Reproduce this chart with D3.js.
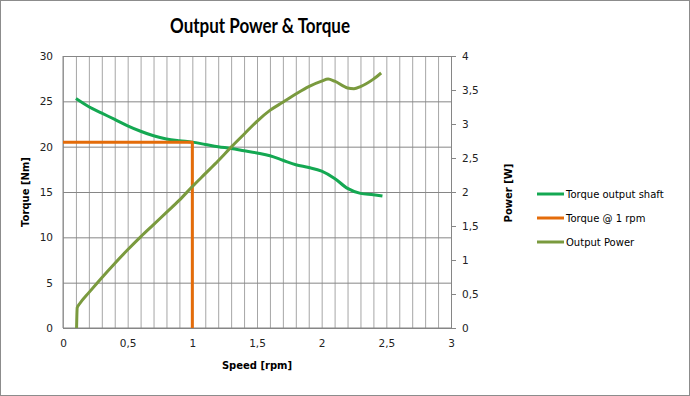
<!DOCTYPE html>
<html>
<head>
<meta charset="utf-8">
<script src="https://cdn.jsdelivr.net/npm/d3@7"></script>
<style>
	body { margin: 0; background: #fff; }
	svg { display: block; }
	.tick text { font-family: 'DejaVu Sans', Verdana, sans-serif; font-size: 10.5px; fill: #222; }
</style>
</head>
<body>
<svg></svg>
<script>

// torque output shaft [speed rpm, torque Nm]
const torqueShaft = [
	[0.1, 25.3], [0.2, 24.4], [0.3, 23.7], [0.4, 23.0], [0.5, 22.3], [0.6, 21.7],
	[0.7, 21.2], [0.8, 20.85], [0.9, 20.65], [1.0, 20.5], [1.1, 20.25], [1.2, 20.0],
	[1.3, 19.8], [1.4, 19.55], [1.5, 19.3], [1.6, 19.0], [1.7, 18.5], [1.8, 18.0],
	[1.9, 17.7], [2.0, 17.3], [2.1, 16.5], [2.2, 15.4], [2.3, 14.85], [2.4, 14.7], [2.47, 14.55]
]

// torque @ 1 rpm marker
const torqueAt1 = [[0, 20.5], [1, 20.5], [1, 0]]

// output power [speed rpm, power W]
const outputPower = [
	[0.105, 0], [0.11, 0.3], [0.13, 0.36], [0.2, 0.52], [0.3, 0.74], [0.4, 0.95],
	[0.5, 1.15], [0.6, 1.34], [0.7, 1.52], [0.8, 1.70], [0.9, 1.88], [1.0, 2.08],
	[1.1, 2.27], [1.2, 2.46], [1.3, 2.66], [1.4, 2.85], [1.5, 3.04], [1.6, 3.20],
	[1.7, 3.32], [1.8, 3.44], [1.9, 3.55], [2.0, 3.63], [2.05, 3.66], [2.1, 3.63],
	[2.2, 3.53], [2.25, 3.52], [2.3, 3.55], [2.4, 3.66], [2.46, 3.75]
]

const xTicks = [0, 0.5, 1, 1.5, 2, 2.5, 3]
const yLeftTicks = [0, 5, 10, 15, 20, 25, 30]
const yRightTicks = [0, 0.5, 1, 1.5, 2, 2.5, 3, 3.5, 4]

const series = [
	{ name: 'Torque output shaft', color: '#14a852', data: torqueShaft, axis: 'left' },
	{ name: 'Torque @ 1 rpm', color: '#e46c0a', data: torqueAt1, axis: 'left' },
	{ name: 'Output Power', color: '#7a9a3e', data: outputPower, axis: 'right' }
]

let width = 690, height = 396
let pLeft = 63, pRight = 451, pTop = 56, pBottom = 328

const comma = d => String(d).replace('.', ',')

let svg = d3.select('svg')
.attr('width', width)
.attr('height', height)

svg.append('rect')
.attr('x', 0.5).attr('y', 0.5)
.attr('width', width - 1).attr('height', height - 1)
.attr('fill', '#fff').attr('stroke', '#8c8c8c')

let scX = d3.scaleLinear().domain([0, 3]).range([pLeft, pRight])
let scYL = d3.scaleLinear().domain([0, 30]).range([pBottom, pTop])
let scYR = d3.scaleLinear().domain([0, 4]).range([pBottom, pTop])

// vertical minor grid every 0.1
svg.append('g')
.attr('transform', `translate(0, ${pBottom})`)
.call(d3.axisBottom(scX).tickValues(d3.range(0, 31).map(i => i / 10)).tickSize(-(pBottom - pTop)).tickFormat(''))
.call(g => g.select('.domain').remove())
.call(g => g.selectAll('line').attr('stroke', '#a6a6a6'))

// horizontal grid
svg.append('g')
.attr('transform', `translate(${pLeft}, 0)`)
.call(d3.axisLeft(scYL).tickValues(yLeftTicks).tickSize(-(pRight - pLeft)).tickFormat(''))
.call(g => g.select('.domain').remove())
.call(g => g.selectAll('line').attr('stroke', '#868686'))

// axis lines
svg.append('line')
.attr('x1', pLeft).attr('x2', pLeft).attr('y1', pTop).attr('y2', pBottom)
.attr('stroke', '#868686')
svg.append('line')
.attr('x1', pLeft).attr('x2', pRight).attr('y1', pBottom).attr('y2', pBottom)
.attr('stroke', '#868686')

// left labels
svg.append('g')
.attr('transform', `translate(${pLeft}, 0)`)
.call(d3.axisLeft(scYL).tickValues(yLeftTicks).tickSize(0).tickPadding(10))
.call(g => g.select('.domain').remove())

// bottom labels
svg.append('g')
.attr('transform', `translate(0, ${pBottom})`)
.call(d3.axisBottom(scX).tickValues(xTicks).tickSize(0).tickPadding(12).tickFormat(comma))
.call(g => g.select('.domain').remove())

// right axis
svg.append('g')
.attr('transform', `translate(${pRight}, 0)`)
.call(d3.axisRight(scYR).tickValues(yRightTicks).tickSizeInner(5).tickSizeOuter(0).tickPadding(6).tickFormat(comma))
.call(g => g.selectAll('line, .domain').attr('stroke', '#868686'))

// lines
series.forEach(s => {
	let scY = s.axis == 'left' ? scYL : scYR
	svg.append('path')
	.datum(s.data)
	.attr('d', d3.line().x(d => scX(d[0])).y(d => scY(d[1])).curve(s.name == 'Torque @ 1 rpm' ? d3.curveLinear : d3.curveMonotoneX))
	.attr('fill', 'none')
	.attr('stroke', s.color)
	.attr('stroke-width', 3)
	.attr('stroke-linejoin', 'round')
})

// titles
svg.append('text')
.attr('x', 260).attr('y', 33)
.attr('text-anchor', 'middle')
.attr('textLength', 180).attr('lengthAdjust', 'spacingAndGlyphs')
.style('font-family', 'Lato, sans-serif').style('font-weight', 'bold').style('font-size', '20px')
.text('Output Power & Torque')

const axisTitle = (txt, x, y, rot) => svg.append('text')
	.attr('transform', `translate(${x}, ${y}) rotate(${rot})`)
	.attr('text-anchor', 'middle')
	.style('font-family', "'DejaVu Sans', Tahoma, sans-serif").style('font-weight', 'bold').style('font-size', '10px')
	.text(txt)

axisTitle('Speed [rpm]', 257, 369, 0)
axisTitle('Torque [Nm]', 29, 192, -90)
axisTitle('Power [W]', 512, 193, -90)

// legend
let legend = svg.append('g')
.selectAll('g').data(series).enter().append('g')
.attr('transform', (d, i) => `translate(537, ${194 + i * 24})`)

legend.append('line')
.attr('x1', 0).attr('x2', 27)
.attr('stroke', d => d.color).attr('stroke-width', 3)

legend.append('text')
.attr('x', 29).attr('dy', '0.35em')
.style('font-family', "'DejaVu Sans', Verdana, sans-serif").style('font-size', '10px')
.text(d => d.name)

</script>
</body>
</html>
